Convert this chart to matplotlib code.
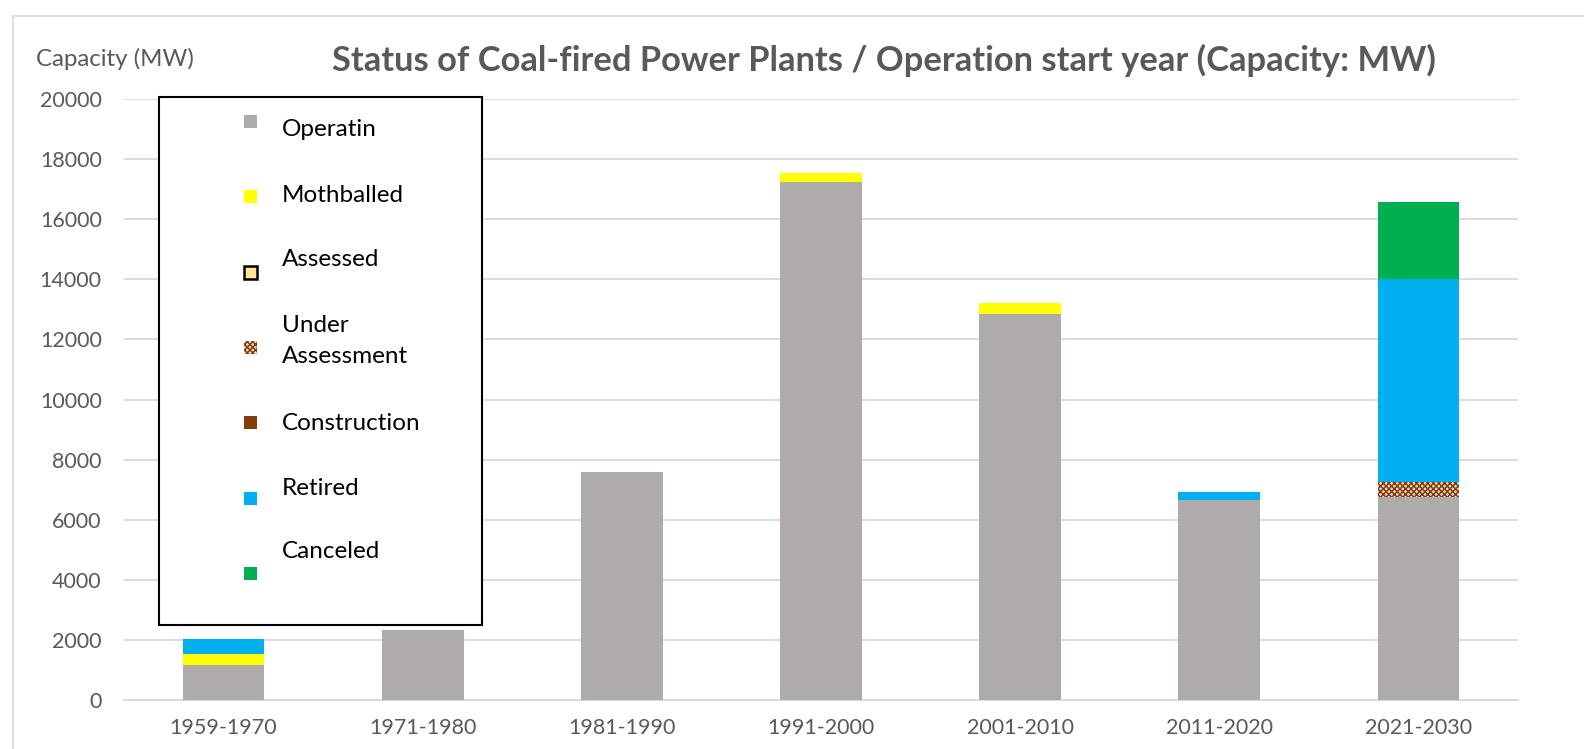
import numpy as np
import matplotlib.pyplot as plt
from matplotlib.patches import Rectangle

plt.rcParams['font.family'] = ['Lato', 'DejaVu Sans']
plt.rcParams['hatch.linewidth'] = 1.1

# data (MW)
periods = ['1959-1970', '1971-1980', '1981-1990', '1991-2000', '2001-2010', '2011-2020', '2021-2030']
operating = [1170, 2320, 7590, 17250, 12840, 6660, 6760]
mothballed = [350, 0, 0, 280, 360, 0, 0]
assessed = [0, 0, 0, 0, 0, 0, 0]
under_assessment = [0, 0, 0, 0, 0, 0, 490]
construction = [0, 0, 0, 0, 0, 0, 0]
retired = [520, 0, 0, 0, 0, 250, 6770]
canceled = [0, 0, 0, 0, 0, 0, 2540]

statuses = ['Operatin', 'Mothballed', 'Assessed', 'Under\nAssessment', 'Construction', 'Retired', 'Canceled']
series = [operating, mothballed, assessed, under_assessment, construction, retired, canceled]
face = ['#AFABAB', '#FFFF00', '#FFE699', '#F3DCCB', '#843C0C', '#00B0F0', '#00B050']
hatches = [None, None, None, 'xxxxxx', None, None, None]

W, H = 1584, 749
fig = plt.figure(figsize=(W / 100, H / 100), dpi=100)

def px(x, y):
    return x / W, 1 - y / H

# chart border (Excel chart area)
fig.add_artist(Rectangle(px(13, 800), 1700 / W, 784 / H, transform=fig.transFigure,
                         fill=False, edgecolor='#D9D9D9', linewidth=1.2))

left, top = px(124, 99)
right, bottom = px(1518, 700)
ax = fig.add_axes([left, bottom, right - left, top - bottom])

x = np.arange(len(periods))
base = np.zeros(len(periods))
for vals, fc, ht in zip(series, face, hatches):
    vals = np.array(vals, dtype=float)
    if ht:
        ax.bar(x, vals, 0.41, bottom=base, color=fc, edgecolor='#843C0C', linewidth=0, hatch=ht, zorder=3)
    else:
        ax.bar(x, vals, 0.41, bottom=base, color=fc, linewidth=0, zorder=3)
    base += vals

ax.set_xlim(-0.5, len(periods) - 0.5)
ax.set_ylim(0, 20000)
ax.set_yticks(np.arange(0, 20001, 2000))
ax.set_xticks(x)
ax.set_xticklabels(periods)
ax.grid(axis='y', color='#D9D9D9', linewidth=1.3, zorder=0)
ax.tick_params(axis='both', length=0, labelsize=15.5, colors='#595959')
ax.tick_params(axis='y', pad=16)
ax.tick_params(axis='x', pad=13)
for s in ['left', 'right', 'top']:
    ax.spines[s].set_visible(False)
ax.spines['bottom'].set_color('#D9D9D9')
ax.spines['bottom'].set_linewidth(1.3)

fig.text(*px(36, 66), 'Capacity (MW)', fontsize=17.3, color='#595959', va='baseline', ha='left')
fig.text(*px(884, 71), 'Status of Coal-fired Power Plants / Operation start year (Capacity: MW)',
         fontsize=24.8, fontweight='bold', color='#595959', va='baseline', ha='center')

# legend box drawn like Excel's tall layout
fig.add_artist(Rectangle(px(159, 625), (482 - 159) / W, (625 - 97) / H, transform=fig.transFigure,
                         facecolor='white', edgecolor='black', linewidth=1.5, zorder=5))
marker_y = [121, 196, 272, 347, 422, 498, 573]
text_y = [130, 195, 260, 341, 423, 488, 552]
for name, fc, ht, my, ty in zip(statuses, face, hatches, marker_y, text_y):
    sz = 13
    if name == 'Assessed':
        fig.add_artist(Rectangle(px(250 - sz / 2, my + sz / 2), sz / W, sz / H, transform=fig.transFigure,
                                 facecolor=fc, edgecolor='black', linewidth=1.8, zorder=6))
    elif ht:
        fig.add_artist(Rectangle(px(250 - sz / 2, my + sz / 2), sz / W, sz / H, transform=fig.transFigure,
                                 facecolor=fc, edgecolor='#843C0C', linewidth=0, hatch=ht, zorder=6))
    else:
        fig.add_artist(Rectangle(px(250 - sz / 2, my + sz / 2), sz / W, sz / H, transform=fig.transFigure,
                                 facecolor=fc, linewidth=0, zorder=6))
    fig.text(*px(282, ty), name, fontsize=17.5, color='black', va='center', ha='left',
             linespacing=1.55, zorder=7)

fig.savefig('out.png', dpi=100)
